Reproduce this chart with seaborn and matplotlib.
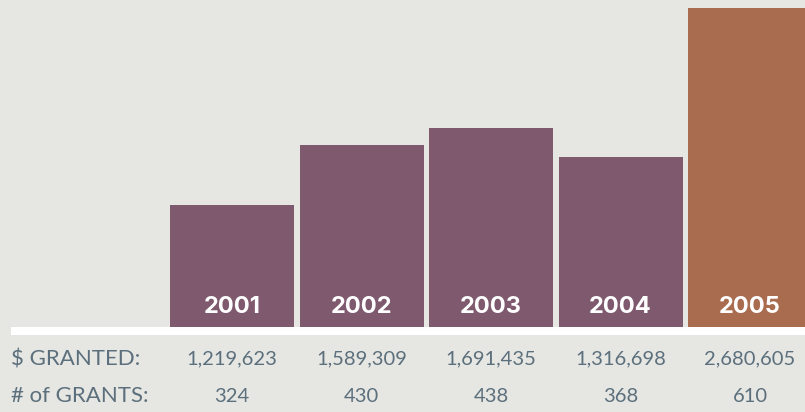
import matplotlib
matplotlib.use("Agg")
import matplotlib.pyplot as plt
import seaborn as sns
import pandas as pd

years = ["2001", "2002", "2003", "2004", "2005"]
granted = [1219623, 1589309, 1691435, 1316698, 2680605]
num_grants = [324, 430, 438, 368, 610]
# bar heights as drawn in the reference (millions)
bar_heights = [1.025, 1.529, 1.672, 1.428, 2.680]
row_labels = ["$ GRANTED:", "# of GRANTS:"]

bg = "#e6e6e2"
purple = "#7f5a6e"
orange = "#a96c4f"
txt = "#5b6f7c"

sns.set_theme(style="white")
plt.rcParams["font.family"] = ["Lato", "DejaVu Sans"]

df = pd.DataFrame({"year": years, "height": bar_heights})
colors = [purple] * 4 + [orange]

W, H = 805, 412
fig = plt.figure(figsize=(W / 100, H / 100), dpi=100)
fig.patch.set_facecolor(bg)
ax = fig.add_axes([0, 0, 1, 1])
ax.set_facecolor(bg)

sns.barplot(data=df, x="year", y="height", hue="year", palette=colors,
            width=124 / 129.5, legend=False, ax=ax, saturation=1,
            linewidth=0, edgecolor="none")

s = 2.68 / 319.0  # data units per pixel
ax.set_ylim(-85 * s, 327 * s)
ax.set_xlim((0 - 232) / 129.5, (805 - 232) / 129.5)
ax.axhspan(-8 * s, 0, xmin=11 / 805, xmax=1, color="white", lw=0)

for i, y in enumerate(years):
    ax.text(i, 20 * s, y, ha="center", va="center", color="white",
            fontsize=17, fontweight="bold", family=["Inter", "DejaVu Sans"])
    ax.text(i, -32 * s, f"{granted[i]:,}", ha="center", va="center",
            color=txt, fontsize=14.5)
    ax.text(i, -69 * s, str(num_grants[i]), ha="center", va="center",
            color=txt, fontsize=14.5)

xl = ax.get_xlim()[0] + 11 / 129.5
ax.text(xl, -32 * s, row_labels[0], ha="left", va="center", color=txt, fontsize=16)
ax.text(xl, -69 * s, row_labels[1], ha="left", va="center", color=txt, fontsize=16)

ax.set_axis_off()
fig.savefig("out.png", dpi=100, facecolor=bg)
